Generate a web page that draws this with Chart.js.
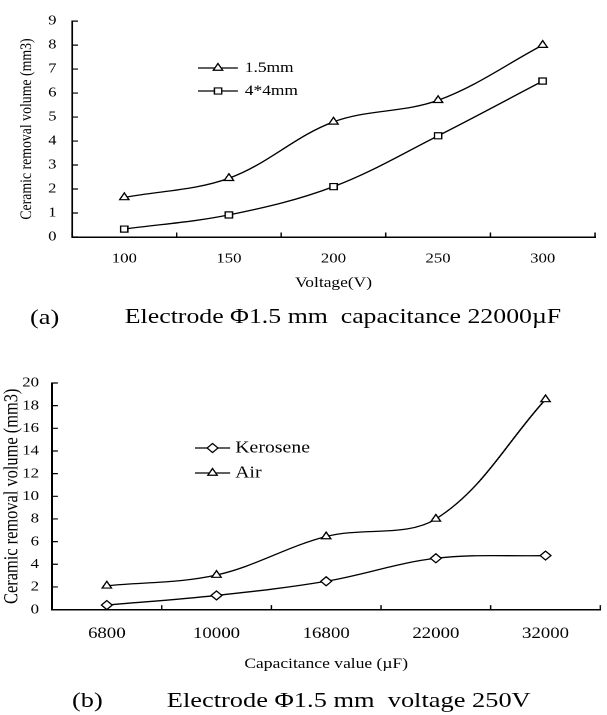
<!DOCTYPE html>
<html><head><meta charset="utf-8">
<script src="https://cdn.jsdelivr.net/npm/chart.js@4.4.1/dist/chart.umd.min.js"></script>
<style>
html,body{margin:0;padding:0;background:#fff;overflow:hidden;width:607px;height:715px;}
#stage{position:absolute;left:0;top:0;width:506px;height:715px;transform:scaleX(1.2);transform-origin:0 0;}
#stage canvas{position:absolute;left:0;}
.cap{position:absolute;font-family:"Liberation Serif";font-size:22px;color:#000;white-space:pre;line-height:1;}
.capa{font-size:21.5px;}
</style></head><body>
<div id="stage">
<canvas id="ca" width="506" height="300" style="top:0px"></canvas>
<div class="cap" style="left:25px;top:306px">(a)</div>
<div class="cap capa" style="left:104px;top:306px">Electrode Φ1.5 mm  capacitance 22000µF</div>
<canvas id="cb" width="506" height="320" style="top:360px"></canvas>
<div class="cap" style="left:60px;top:689px">(b)</div>
<div class="cap" style="left:139px;top:689px">Electrode Φ1.5 mm  voltage 250V</div>
</div>
<script>
// ---- data ----
const voltageLabels = ['100', '150', '200', '250', '300'];
const removal15mm = [1.65, 2.45, 4.8, 5.7, 8.0];
const removal4x4mm = [0.33, 0.92, 2.1, 4.22, 6.5];

const capacitanceLabels = ['6800', '10000', '16800', '22000', '32000'];
const removalKerosene = [0.4, 1.25, 2.5, 4.53, 4.77];
const removalAir = [2.1, 3.05, 6.45, 8.0, 18.55];

const yAxisA = { min: 0, max: 9, step: 1 };
const yAxisB = { min: 0, max: 20, step: 2 };

// ---- plugins ----
const inwardTicks = {
  id: 'inwardTicks',
  afterDraw(chart, args, o) {
    const ctx = chart.ctx, xs = chart.scales.x, ys = chart.scales.y, a = chart.chartArea;
    ctx.save();
    ctx.strokeStyle = '#000';
    ctx.lineWidth = 1.2;
    ctx.beginPath();
    ys.ticks.forEach(t => {
      const py = ys.getPixelForValue(t.value);
      ctx.moveTo(a.left, py); ctx.lineTo(a.left + o.lenY, py);
    });
    const n = xs.ticks.length;
    const half = (xs.getPixelForValue(1) - xs.getPixelForValue(0)) / 2;
    for (let i = 0; i <= n; i++) {
      const px = i < n ? xs.getPixelForValue(i) - half : xs.getPixelForValue(n - 1) + half;
      ctx.moveTo(px, a.bottom); ctx.lineTo(px, a.bottom - o.lenX);
    }
    ctx.stroke();
    ctx.restore();
  }
};

const lineLegend = {
  id: 'lineLegend',
  afterDatasetsDraw(chart, args, o) {
    const ctx = chart.ctx;
    chart.data.datasets.forEach((ds, i) => {
      const y = o.y + i * o.dy;
      ctx.save();
      ctx.strokeStyle = '#000';
      ctx.lineWidth = ds.borderWidth;
      ctx.beginPath(); ctx.moveTo(o.x0, y); ctx.lineTo(o.x1, y); ctx.stroke();
      ctx.fillStyle = '#fff';
      ctx.lineWidth = ds.pointBorderWidth;
      Chart.helpers.drawPoint(ctx, { pointStyle: ds.pointStyle, radius: ds.pointRadius, borderWidth: ds.pointBorderWidth, rotation: 0 }, (o.x0 + o.x1) / 2, y);
      ctx.fillStyle = '#000';
      ctx.font = o.font;
      ctx.textAlign = 'left';
      ctx.textBaseline = 'middle';
      ctx.fillText(ds.label, o.tx, y);
      ctx.restore();
    });
  }
};

Chart.defaults.font.family = 'Liberation Serif';
Chart.defaults.color = '#000';

function ds(label, data, style, r) {
  return {
    label, data, pointStyle: style, pointRadius: r, pointHoverRadius: r,
    borderColor: '#000', borderWidth: 1.3, backgroundColor: '#fff',
    pointBackgroundColor: '#fff', pointBorderColor: '#000', pointBorderWidth: 1.2,
    tension: 0.35, fill: false
  };
}

function axisX(fontSize, pad, title, titleSize, titlePadB, height) {
  return {
    type: 'category', offset: true,
    grid: { drawOnChartArea: false, drawTicks: false, offset: true },
    border: { display: true, color: '#000', width: 1.5 },
    ticks: { color: '#000', font: { family: 'Liberation Serif', size: fontSize }, padding: pad, maxRotation: 0, autoSkip: false },
    title: { display: true, text: title, color: '#000', font: { family: 'Liberation Serif', size: titleSize }, padding: { top: 0, bottom: titlePadB } },
    afterFit(s) { s.height = height; }
  };
}
function axisY(rng, fontSize, pad, title, titleSize, titlePadT, width) {
  return {
    min: rng.min, max: rng.max,
    grid: { drawOnChartArea: false, drawTicks: false },
    border: { display: true, color: '#000', width: 1.5 },
    ticks: { stepSize: rng.step, color: '#000', font: { family: 'Liberation Serif', size: fontSize }, padding: pad },
    title: { display: true, text: title, color: '#000', font: { family: 'Liberation Serif', size: titleSize }, padding: { top: titlePadT, bottom: 0 } },
    afterFit(s) { s.width = width; }
  };
}

new Chart(document.getElementById('ca'), {
  type: 'line',
  data: {
    labels: voltageLabels,
    datasets: [
      ds('1.5mm', removal15mm, 'triangle', 4.5),
      ds('4*4mm', removal4x4mm, 'rect', 4.3)
    ]
  },
  options: {
    responsive: false, animation: false, devicePixelRatio: 2, events: [],
    layout: { padding: { top: 14, right: 10.2, bottom: 0, left: 0 } },
    plugins: {
      legend: { display: false }, tooltip: { enabled: false },
      inwardTicks: { lenY: 5, lenX: 4.5 },
      lineLegend: { x0: 165, x1: 198.3, tx: 204, y: 68, dy: 23, font: '14.5px "Liberation Serif"' }
    },
    scales: {
      x: axisX(14, 13.6, 'Voltage(V)', 14.5, 8.3, 63),
      y: axisY(yAxisA, 13.5, 13, 'Ceramic removal volume (mm3)', 13.8, 14.2, 60)
    }
  },
  plugins: [inwardTicks, lineLegend]
});

new Chart(document.getElementById('cb'), {
  type: 'line',
  data: {
    labels: capacitanceLabels,
    datasets: [
      ds('Kerosene', removalKerosene, 'rectRot', 4.5),
      ds('Air', removalAir, 'triangle', 4.5)
    ]
  },
  options: {
    responsive: false, animation: false, devicePixelRatio: 2, events: [],
    layout: { padding: { top: 23, right: 4.3, bottom: 0, left: 0 } },
    plugins: {
      legend: { display: false }, tooltip: { enabled: false },
      inwardTicks: { lenY: 5, lenX: 4.5 },
      lineLegend: { x0: 162.5, x1: 191.7, tx: 196, y: 88, dy: 25, font: '16.5px "Liberation Serif"' }
    },
    scales: {
      x: axisX(15.7, 15, 'Capacitance value (µF)', 14.6, 7.2, 70.4),
      y: axisY(yAxisB, 14, 10.8, 'Ceramic removal volume (mm3)', 16.4, 0.2, 43.3)
    }
  },
  plugins: [inwardTicks, lineLegend]
});
</script>
</body></html>
